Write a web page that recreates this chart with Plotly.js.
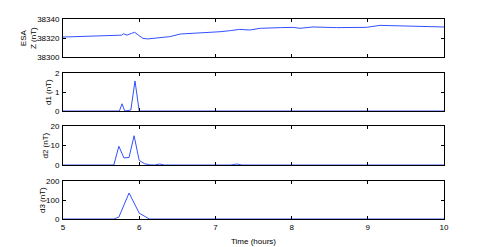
<!DOCTYPE html>
<html><head><meta charset="utf-8">
<script src="https://cdn.plot.ly/plotly-3.0.1.min.js"></script>
<style>html,body{margin:0;padding:0;background:#fff}#c{width:491px;height:247px}</style>
</head><body><div id="c"></div>
<script>
// ESA Z component (nT)
const zTime = [5.0, 5.40, 5.70, 5.77, 5.79, 5.84, 5.90, 5.94, 5.99, 6.05, 6.11, 6.20, 6.27, 6.40, 6.54, 6.64, 6.80, 7.06, 7.20, 7.32, 7.45, 7.59, 7.85, 8.02, 8.11, 8.28, 8.59, 8.98, 9.16, 9.55, 10.0];
const zVal  = [38321, 38321.8, 38322.4, 38323, 38324.5, 38323, 38324.9, 38326, 38323, 38319.6, 38319, 38319.6, 38320.3, 38321.4, 38324.2, 38324.6, 38324.9, 38326.6, 38327.8, 38329.1, 38328.4, 38330.2, 38330.9, 38331.2, 38330.2, 38331.6, 38330.9, 38331.2, 38333.3, 38332.3, 38331.6];
// d1
const d1Time = [5.0, 5.74, 5.775, 5.81, 5.89, 5.945, 6.0, 10.0];
const d1Val  = [0, 0, 0.38, 0, 0.05, 1.58, 0, 0];
// d2
const d2Time = [5.0, 5.667, 5.733, 5.8, 5.867, 5.933, 6.0, 6.067, 6.133, 6.2, 6.27, 6.33, 7.2, 7.28, 7.35, 10.0];
const d2Val  = [0, 0, 9.6, 3.6, 3.9, 15, 2.4, 0.7, 0.1, 0, 0.5, 0, 0, 0.5, 0, 0];
// d3
const d3Time = [5.0, 5.667, 5.733, 5.867, 6.0, 6.133, 10.0];
const d3Val  = [0, 0, 10, 137, 31, 0, 0];

const xTicks = [5, 6, 7, 8, 9, 10];
const yTicks1 = [38300, 38320, 38340];
const yTicks2 = [0, 1, 2];
const yTicks3 = [0, 10, 20];
const yTicks4 = [0, 100, 200];
const yTitles = ["ESA<br>Z (nT)", "d1 (nT)", "d2 (nT)", "d3 (nT)"];

const lineStyle = {color: 'rgb(50,80,255)', width: 1};
const traces = [
  {x: zTime, y: zVal, xaxis: 'x', yaxis: 'y'},
  {x: d1Time, y: d1Val, xaxis: 'x2', yaxis: 'y2'},
  {x: d2Time, y: d2Val, xaxis: 'x3', yaxis: 'y3'},
  {x: d3Time, y: d3Val, xaxis: 'x4', yaxis: 'y4'}
].map(t => Object.assign(t, {type: 'scatter', mode: 'lines', line: lineStyle, hoverinfo: 'none'}));

const font = {family: 'Liberation Sans, Arial, sans-serif', size: 8, color: '#000'};
function xa(anchor, showLabels) {
  return {anchor: anchor, range: [5, 10], tickvals: xTicks, ticktext: xTicks.map(String),
    showticklabels: showLabels,
    ticks: 'inside', ticklen: 3, tickcolor: '#000', showline: true, mirror: 'ticks',
    linecolor: '#000', linewidth: 1, showgrid: false, zeroline: false, tickfont: font};
}
function ya(anchor, domain, range, ticks) {
  return {anchor: anchor, domain: domain, range: range, tickvals: ticks, ticktext: ticks.map(String),
    ticklabelstandoff: 1,
    ticks: 'inside', ticklen: 3, tickcolor: '#000', showline: true, mirror: 'ticks',
    linecolor: '#000', linewidth: 1, showgrid: false, zeroline: false, tickfont: font};
}
const pw = 491 - 63 - 47;
function px(x) { return (x - 63) / pw; }
const titleX = [px(29), px(48), px(45), px(42)];
const titleY = [0.905, 0.635, 0.3675, 0.095];
const annotations = yTitles.map((t, i) => ({
  text: t, xref: 'paper', yref: 'paper', x: titleX[i], y: titleY[i],
  xanchor: 'center', yanchor: 'middle', textangle: -90, showarrow: false, font: font
}));
const layout = {
  width: 491, height: 247, showlegend: false,
  paper_bgcolor: '#fff', plot_bgcolor: '#fff', font: font,
  margin: {l: 63, r: 47, t: 19, b: 28},
  annotations: annotations,
  xaxis: xa('y', false), xaxis2: xa('y2', false), xaxis3: xa('y3', false),
  xaxis4: Object.assign(xa('y4', true), {title: {text: 'Time (hours)', font: font, standoff: 7}}),
  yaxis: ya('x', [0.81, 1.0], [38300, 38340], yTicks1),
  yaxis2: ya('x2', [0.54, 0.73], [0, 2], yTicks2),
  yaxis3: ya('x3', [0.27, 0.465], [0, 20], yTicks3),
  yaxis4: ya('x4', [0, 0.19], [0, 200], yTicks4)
};
Plotly.newPlot('c', traces, layout, {staticPlot: true, displayModeBar: false});
</script></body></html>
